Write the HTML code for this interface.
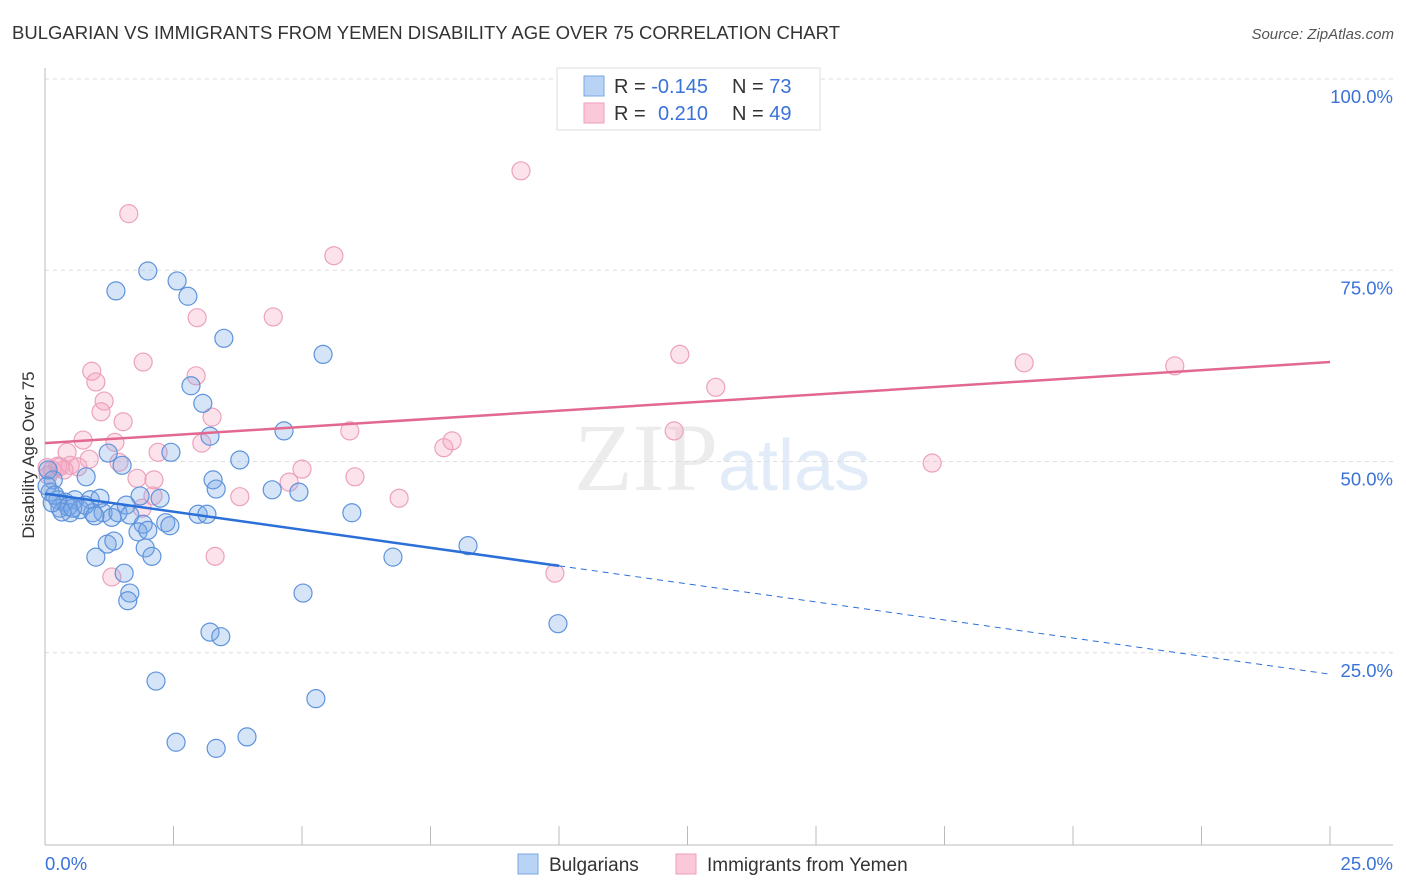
<!DOCTYPE html>
<html><head><meta charset="utf-8"><style>
body{margin:0;background:#fff;font-family:"Liberation Sans",sans-serif}
svg{display:block}
</style></head><body>
<svg id="c" width="1406" height="892">
<text x="12" y="39" font-size="18.5" fill="#333" textLength="828">BULGARIAN VS IMMIGRANTS FROM YEMEN DISABILITY AGE OVER 75 CORRELATION CHART</text>
<text x="1394" y="39" font-size="15" fill="#555" font-style="italic" text-anchor="end">Source: ZipAtlas.com</text>
<text x="718" y="490" font-size="96" fill="#ececec" font-family="Liberation Serif" text-anchor="end">ZIP</text>
<text x="718" y="490" font-size="72" fill="#e2ecf8">atlas</text>
<g id="grid"></g><g id="axes"></g><g id="pts"></g><g id="lines"></g>
<text transform="translate(34,455) rotate(-90)" font-size="17" fill="#333" text-anchor="middle">Disability Age Over 75</text>
<g>
<rect x="557" y="68" width="263" height="62" fill="#fff" stroke="#ddd"/>
<rect x="584" y="76" width="20" height="20" fill="#b9d3f5" stroke="#7aa7e6"/>
<rect x="584" y="103" width="20" height="20" fill="#fac8d8" stroke="#ef9fba"/>
<text x="614" y="93" font-size="20" fill="#333">R = <tspan fill="#3a72d8">-0.145</tspan></text>
<text x="732" y="93" font-size="20" fill="#333">N = <tspan fill="#3a72d8">73</tspan></text>
<text x="614" y="120" font-size="20" fill="#333">R = <tspan fill="#3a72d8" x="658">0.210</tspan></text>
<text x="732" y="120" font-size="20" fill="#333">N = <tspan fill="#3a72d8">49</tspan></text>
</g>
<g>
<rect x="518" y="854" width="20" height="20" fill="#b9d3f5" stroke="#7aa7e6"/>
<text x="549" y="871" font-size="19" fill="#333">Bulgarians</text>
<rect x="676" y="854" width="20" height="20" fill="#fac8d8" stroke="#ef9fba"/>
<text x="707" y="871" font-size="19" fill="#333">Immigrants from Yemen</text>
</g>
</svg>
<script>
const blueX=[2.00,2.57,2.78,1.38,3.48,5.41,2.84,3.07,3.21,4.65,2.45,3.79,1.23,1.50,0.80,3.27,3.33,4.42,4.94,0.16,0.10,0.25,0.39,0.58,0.88,1.07,1.85,2.24,1.58,0.29,0.49,0.68,0.93,1.13,1.30,1.42,1.65,2.98,3.15,2.35,2.43,1.91,1.81,2.00,5.97,1.21,1.34,1.95,2.08,0.99,6.77,8.23,1.54,1.65,1.61,5.02,3.21,3.42,9.98,2.16,5.27,2.55,3.33,3.93,0.06,0.04,0.19,0.45,0.78,0.97,0.33,0.54,0.14];
const blueY=[74.9,73.6,71.6,72.3,66.1,64.0,59.9,57.6,53.3,54.0,51.2,50.2,51.1,49.5,48.0,47.6,46.4,46.3,46.0,47.6,46.0,45.0,44.7,45.0,45.0,45.2,45.5,45.2,44.3,43.9,43.3,43.7,43.3,43.3,42.7,43.3,43.0,43.1,43.1,42.0,41.6,41.8,40.8,41.0,43.3,39.2,39.6,38.7,37.6,37.5,37.5,39.0,35.4,32.8,31.8,32.8,27.7,27.1,28.8,21.3,19.0,13.3,12.5,14.0,48.9,46.8,45.6,44.1,44.3,42.9,43.4,43.9,44.6];
const pinkX=[9.26,1.63,5.62,2.96,4.44,0.91,0.99,1.91,2.94,1.15,1.09,1.52,3.25,0.74,1.36,0.43,2.20,3.05,5.93,7.76,7.92,12.24,12.35,13.05,19.05,21.98,17.26,1.44,0.29,0.64,0.14,0.49,0.04,0.86,1.79,2.12,5.00,4.75,6.03,6.89,3.79,2.10,1.89,3.31,1.30,9.92,0.06,0.25,0.37];
const pinkY=[88.0,82.4,76.9,68.8,68.9,61.8,60.4,63.0,61.2,57.9,56.5,55.2,55.8,52.8,52.5,51.2,51.2,52.4,54.0,51.8,52.7,54.0,64.0,59.7,62.9,62.5,49.8,49.9,49.3,49.3,48.9,49.5,49.2,50.3,47.8,47.6,49.0,47.3,48.0,45.2,45.4,45.5,43.9,37.6,34.9,35.4,48.2,49.4,48.9];
const blueTrend=[45.8,22.2]; const blueSolidEnd=10;
const pinkTrend=[52.4,63.0];
const yTicks=[25,50,75,100];
const yTickLabels=["25.0%","50.0%","75.0%","100.0%"];
const xTicks=[0,2.5,5,7.5,10,12.5,15,17.5,20,22.5,25];
const NS='http://www.w3.org/2000/svg';
const X=v=>45+v/25*1285, Y=v=>844-v/100*765;
function mk(t,a,p){const e=document.createElementNS(NS,t);for(const k in a)e.setAttribute(k,a[k]);p.appendChild(e);return e;}
const grid=document.getElementById('grid'),axes=document.getElementById('axes'),pts=document.getElementById('pts'),lines=document.getElementById('lines');
yTicks.forEach((v,i)=>{
 const l=mk('line',{x1:45,x2:1393,y1:Y(v),y2:Y(v),stroke:'#ddd','stroke-dasharray':'4,4'},grid);
 
 
 const t=mk('text',{x:1393,y:Y(v)+24,'font-size':18.5,fill:'#3a72d8','text-anchor':'end'},axes);
 t.textContent=yTickLabels[i];
 
 
});
let a=mk('line',{x1:45,x2:45,y1:68,y2:845,stroke:'#bbb'},axes);


a=mk('line',{x1:45,x2:1393,y1:845,y2:845,stroke:'#bbb'},axes);


xTicks.forEach(v=>{const l=mk('line',{x1:X(v),x2:X(v),y1:826,y2:845,stroke:'#bbb'},axes);
 
 });
let t=mk('text',{x:45,y:870,'font-size':18.5,fill:'#3a72d8'},axes);t.textContent='0.0%';


t=mk('text',{x:1393,y:870,'font-size':18.5,fill:'#3a72d8','text-anchor':'end'},axes);t.textContent='25.0%';


pinkX.forEach((v,i)=>{const c=mk('circle',{cx:X(v),cy:Y(pinkY[i]),r:9,fill:'rgba(244,160,188,0.3)',stroke:'#eca2bc','stroke-width':1.2},pts);
 
 });
blueX.forEach((v,i)=>{const c=mk('circle',{cx:X(v),cy:Y(blueY[i]),r:9,fill:'rgba(120,165,230,0.3)',stroke:'#5e93dc','stroke-width':1.2},pts);
 
 });
const by=x=>blueTrend[0]+(blueTrend[1]-blueTrend[0])*x/25;
let l=mk('line',{x1:X(0),y1:Y(by(0)),x2:X(blueSolidEnd),y2:Y(by(blueSolidEnd)),stroke:'#2b6fd8','stroke-width':2.5},lines);


l=mk('line',{x1:X(blueSolidEnd),y1:Y(by(blueSolidEnd)),x2:X(25),y2:Y(by(25)),stroke:'#2b6fd8','stroke-width':1,'stroke-dasharray':'6,5'},lines);


l=mk('line',{x1:X(0),y1:Y(pinkTrend[0]),x2:X(25),y2:Y(pinkTrend[1]),stroke:'#e2688f','stroke-width':2.5},lines);


</script>
</body></html>
